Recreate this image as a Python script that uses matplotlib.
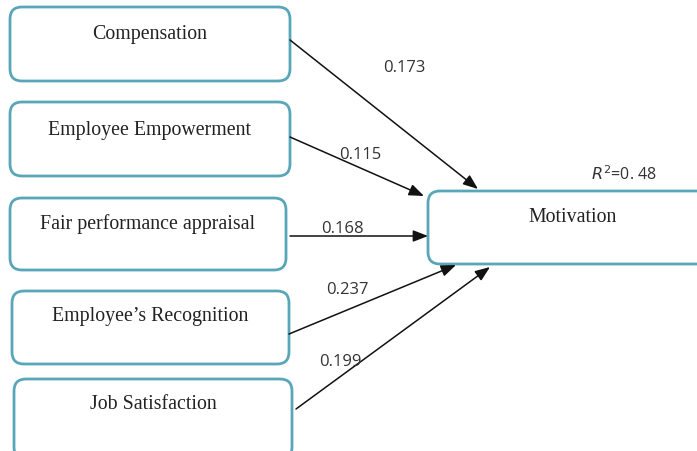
import matplotlib.pyplot as plt
from matplotlib.patches import FancyBboxPatch

# construits et coefficients du modele
constructs = ["Compensation", "Employee Empowerment", "Fair performance appraisal",
              "Employee\u2019s Recognition", "Job Satisfaction"]
coefs = [0.173, 0.115, 0.168, 0.237, 0.199]
target = "Motivation"
r2 = 0.48

# mise en page (pixels)
boxes = [(10, 8, 280, 74), (10, 103, 280, 74), (10, 199, 276, 72),
         (12, 292, 277, 73), (14, 380, 278, 80)]
motiv_box = (428, 192, 290, 73)
arrows = [((290, 41), (478, 190)), ((290, 138), (424, 197)), ((290, 237), (428, 237)),
          ((289, 335), (456, 266)), ((296, 410), (490, 268))]
label_pos = [(404, 68), (360, 155), (342, 229), (347, 290), (340, 362)]
edge = "#5aa6b9"

fig = plt.figure(figsize=(6.97, 4.52), dpi=100)
ax = fig.add_axes([0, 0, 1, 1])
ax.set_xlim(0, 697)
ax.set_ylim(452, 0)
ax.axis("off")

def draw_box(x, y, w, h, txt, ty):
    p = FancyBboxPatch((x + 12, y + 12), w - 24, h - 24, boxstyle="round,pad=12",
                       fc="white", ec=edge, lw=2.0)
    ax.add_patch(p)
    ax.text(x + w / 2, ty, txt, ha="center", va="center",
            family="Liberation Serif", fontsize=14.3, color="#222222")

text_y = [34, 131, 224, 317, 405]
for (x, y, w, h), name, ty in zip(boxes, constructs, text_y):
    draw_box(x, y, w, h, name, ty)
draw_box(*motiv_box, target, 218)

for (p0, p1), c, (lx, ly) in zip(arrows, coefs, label_pos):
    ax.annotate("", xy=p1, xytext=p0,
                arrowprops=dict(arrowstyle="-|>,head_length=0.9,head_width=0.35",
                                color="#111111", lw=1.1, shrinkA=0, shrinkB=0))
    ax.text(lx, ly, "%.3f" % c, ha="center", va="center",
            family="Open Sans", fontsize=12, color="#333333")

ax.text(624, 175, r"$R^2$" + "=0. %d" % round(r2 * 100), ha="center", va="center",
        family="Open Sans", fontsize=11.5, color="#333333")

fig.savefig("out.png", dpi=100)
